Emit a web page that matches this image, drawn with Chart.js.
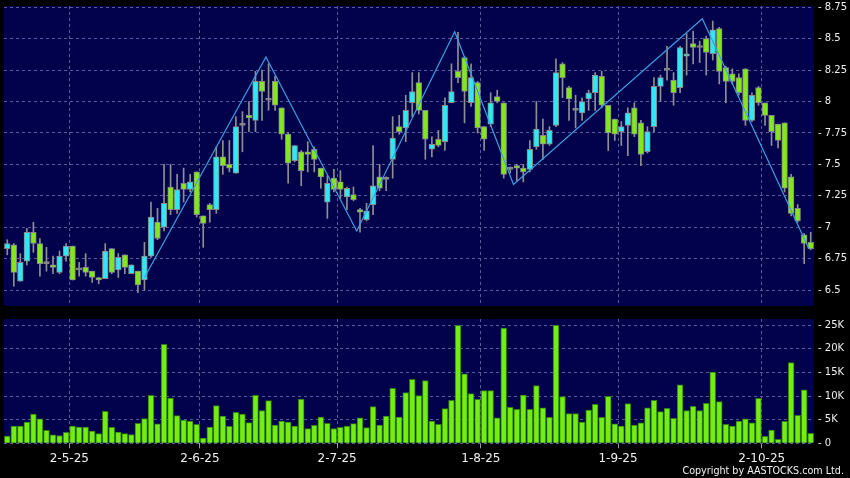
<!DOCTYPE html>
<html>
<head>
<meta charset="utf-8">
<title>Daily candlestick with volume</title>
<script src="https://cdn.jsdelivr.net/npm/chart.js@4.4.1/dist/chart.umd.min.js"></script>
<style>
  html, body { margin: 0; padding: 0; background: #000; }
  #wrap { position: relative; width: 850px; height: 478px; background: #000; overflow: hidden; }
  #priceChart { position: absolute; left: 0; top: 0; }
  #volumeChart { position: absolute; left: 0; top: 312px; }
  #copyright {
    position: absolute; right: 6px; top: 465px;
    font-family: 'DejaVu Sans', sans-serif; font-size: 9.6px; color: #f2f2f2;
  }
</style>
</head>
<body>
<div id="wrap">
  <canvas id="priceChart" width="850" height="306"></canvas>
  <canvas id="volumeChart" width="850" height="166"></canvas>
  <div id="copyright">Copyright by AASTOCKS.com Ltd.</div>
</div>
<script>
// trading days (D-M-YY)
const dates = [
  '16-4-25','17-4-25','22-4-25','23-4-25','24-4-25','25-4-25','28-4-25','29-4-25','30-4-25',
  '2-5-25','6-5-25','7-5-25','8-5-25','9-5-25','12-5-25','13-5-25','14-5-25','15-5-25','16-5-25',
  '19-5-25','20-5-25','21-5-25','22-5-25','23-5-25','26-5-25','27-5-25','28-5-25','29-5-25','30-5-25',
  '2-6-25','3-6-25','4-6-25','5-6-25','6-6-25','9-6-25','10-6-25','11-6-25','12-6-25','13-6-25',
  '16-6-25','17-6-25','18-6-25','19-6-25','20-6-25','23-6-25','24-6-25','25-6-25','26-6-25','27-6-25','30-6-25',
  '2-7-25','3-7-25','4-7-25','7-7-25','8-7-25','9-7-25','10-7-25','11-7-25','14-7-25','15-7-25','16-7-25',
  '17-7-25','18-7-25','21-7-25','22-7-25','23-7-25','24-7-25','25-7-25','28-7-25','29-7-25','30-7-25','31-7-25',
  '1-8-25','4-8-25','5-8-25','6-8-25','7-8-25','8-8-25','11-8-25','12-8-25','13-8-25','14-8-25','15-8-25',
  '18-8-25','19-8-25','20-8-25','21-8-25','22-8-25','25-8-25','26-8-25','27-8-25','28-8-25','29-8-25',
  '1-9-25','2-9-25','3-9-25','4-9-25','5-9-25','8-9-25','9-9-25','10-9-25','11-9-25','12-9-25','15-9-25',
  '16-9-25','17-9-25','18-9-25','19-9-25','22-9-25','23-9-25','24-9-25','25-9-25','26-9-25','29-9-25','30-9-25',
  '2-10-25','3-10-25','6-10-25','8-10-25','9-10-25','10-10-25','13-10-25','14-10-25','15-10-25'
];

const open = [
  6.83, 6.86, 6.57, 6.73, 6.96, 6.87, 6.71, 6.70, 6.64, 6.77, 6.85, 6.66, 6.68, 6.65, 6.60, 6.59,
  6.83, 6.66, 6.78, 6.63, 6.65, 6.58, 6.77, 7.04, 7.00, 7.32, 7.14, 7.35, 7.30, 7.44, 7.09, 7.18,
  7.14, 7.56, 7.50, 7.43, 7.81, 7.89, 7.85, 8.16, 8.01, 8.16, 7.95, 7.74, 7.53, 7.60, 7.60, 7.62,
  7.47, 7.20, 7.39, 7.36, 7.24, 7.26, 7.14, 7.06, 7.18, 7.40, 7.38, 7.54, 7.80, 7.79, 7.99, 8.15,
  7.93, 7.62, 7.70, 7.68, 7.99, 8.24, 8.35, 7.99, 8.15, 7.80, 7.82, 8.04, 7.99, 7.46, 7.49, 7.47,
  7.46, 7.64, 7.73, 7.66, 7.81, 8.30, 8.11, 7.93, 7.91, 8.02, 8.07, 8.20, 7.97, 7.86, 7.76, 7.81,
  7.95, 7.83, 7.60, 7.80, 8.12, 8.25, 8.17, 8.11, 8.36, 8.46, 8.43, 8.50, 8.38, 8.58, 8.27, 8.22,
  8.19, 8.26, 7.85, 8.11, 7.99, 7.89, 7.82, 7.83, 7.40, 7.15, 6.94, 6.88
];
const high = [
  6.90, 6.87, 6.79, 6.99, 7.04, 6.91, 6.84, 6.77, 6.81, 6.87, 6.85, 6.72, 6.79, 6.65, 6.60, 6.87,
  6.83, 6.79, 6.78, 6.70, 6.65, 6.88, 7.20, 7.15, 7.50, 7.50, 7.42, 7.47, 7.42, 7.44, 7.09, 7.19,
  7.64, 7.69, 7.69, 7.88, 7.92, 8.00, 8.24, 8.25, 8.30, 8.20, 7.95, 7.75, 7.65, 7.61, 7.68, 7.64,
  7.47, 7.41, 7.46, 7.45, 7.32, 7.32, 7.15, 7.19, 7.65, 7.50, 7.40, 7.88, 7.89, 8.05, 8.23, 8.23,
  7.93, 7.72, 7.77, 8.03, 8.30, 8.55, 8.36, 8.30, 8.16, 7.80, 8.07, 8.09, 7.99, 7.48, 7.50, 7.50,
  7.69, 8.00, 7.86, 7.80, 8.34, 8.31, 8.12, 8.05, 8.03, 8.09, 8.23, 8.24, 7.97, 7.86, 7.84, 7.95,
  7.99, 7.85, 7.80, 8.19, 8.21, 8.44, 8.23, 8.44, 8.54, 8.56, 8.48, 8.52, 8.64, 8.59, 8.28, 8.26,
  8.22, 8.26, 8.07, 8.12, 7.99, 7.89, 7.82, 7.83, 7.42, 7.18, 6.95, 6.96
];
const low = [
  6.78, 6.53, 6.57, 6.70, 6.80, 6.61, 6.65, 6.63, 6.63, 6.73, 6.58, 6.61, 6.61, 6.56, 6.55, 6.59,
  6.63, 6.60, 6.63, 6.63, 6.48, 6.50, 6.76, 6.90, 6.97, 7.10, 7.11, 7.20, 7.28, 7.08, 6.84, 7.04,
  7.11, 7.42, 7.44, 7.43, 7.60, 7.76, 7.76, 7.85, 7.93, 7.93, 7.70, 7.35, 7.52, 7.33, 7.44, 7.44,
  7.31, 7.07, 7.28, 7.23, 7.14, 7.21, 6.96, 7.05, 7.10, 7.29, 7.29, 7.39, 7.74, 7.68, 7.88, 7.90,
  7.54, 7.56, 7.64, 7.61, 7.99, 8.15, 7.83, 7.96, 7.75, 7.61, 7.80, 7.99, 7.39, 7.43, 7.37, 7.36,
  7.44, 7.62, 7.54, 7.65, 7.80, 8.03, 7.85, 7.79, 7.85, 7.93, 7.93, 7.95, 7.61, 7.69, 7.65, 7.57,
  7.72, 7.49, 7.59, 7.76, 8.00, 8.17, 7.97, 8.07, 8.21, 8.30, 8.31, 8.21, 8.33, 8.14, 7.99, 8.14,
  8.05, 7.81, 7.84, 7.97, 7.81, 7.65, 7.63, 7.28, 7.09, 7.04, 6.71, 6.82
];
const close = [
  6.87, 6.64, 6.72, 6.96, 6.87, 6.71, 6.71, 6.68, 6.77, 6.85, 6.58, 6.66, 6.64, 6.60, 6.58, 6.81,
  6.64, 6.76, 6.68, 6.70, 6.54, 6.77, 7.08, 6.91, 7.19, 7.14, 7.30, 7.30, 7.36, 7.10, 7.03, 7.14,
  7.56, 7.49, 7.47, 7.80, 7.81, 7.87, 8.16, 8.08, 8.01, 7.97, 7.74, 7.51, 7.65, 7.45, 7.58, 7.54,
  7.40, 7.35, 7.30, 7.30, 7.31, 7.22, 7.12, 7.13, 7.33, 7.31, 7.38, 7.71, 7.76, 7.93, 8.08, 7.93,
  7.70, 7.66, 7.65, 7.97, 8.08, 8.19, 8.08, 8.19, 7.79, 7.70, 7.99, 8.00, 7.42, 7.46, 7.47, 7.44,
  7.62, 7.78, 7.66, 7.77, 8.23, 8.19, 8.02, 7.93, 8.00, 8.07, 8.21, 7.97, 7.75, 7.74, 7.80, 7.91,
  7.74, 7.58, 7.76, 8.12, 8.19, 8.25, 8.07, 8.43, 8.38, 8.43, 8.43, 8.39, 8.57, 8.24, 8.16, 8.16,
  8.07, 7.85, 8.05, 7.99, 7.89, 7.76, 7.69, 7.31, 7.11, 7.05, 6.87, 6.83
];
const volume = [
  1550, 3670, 3670, 4520, 6210, 5160, 2750, 1770, 1620, 2330, 3670, 3460, 3460, 2610, 2050, 6780,
  3390, 2400, 2050, 1840, 4240, 5230, 10170, 4100, 20970, 9600, 5860, 4940, 4730, 4030, 1130, 3460,
  7980, 5790, 3600, 6570, 6210, 4380, 10170, 6920, 9040, 3880, 4730, 4520, 3670, 9390, 3110, 3810,
  5580, 4240, 3110, 3390, 3670, 4170, 5370, 3320, 7770, 3880, 5790, 11650, 5580, 10730, 13560, 10100,
  13280, 4730, 4030, 7340, 9110, 25000, 14690, 10520, 9320, 11160, 11160, 5370, 24430, 7630, 7200, 10240,
  7200, 12220, 7490, 5510, 25000, 9890, 6290, 6290, 4520, 7060, 8260, 5510, 9960, 4100, 3670, 8400,
  3880, 4310, 7490, 9110, 6710, 7420, 5300, 12360, 6920, 7840, 6920, 8470, 15110, 8830, 4030, 3670,
  4730, 5160, 4310, 9530, 1480, 2820, 850, 4660, 17090, 5930, 11300, 2120
];

// zigzag turning points: position (trading-day index) and price
const zigzagAt = [21, 39.6, 53.5, 68.5, 77.5, 106.4, 122.7];
const zigzagPrice = [6.60, 8.355, 6.97, 8.555, 7.34, 8.658, 6.83];

const monthTicks = ['2-5-25', '2-6-25', '2-7-25', '1-8-25', '1-9-25', '2-10-25'];
const priceTicks = [6.5, 6.75, 7, 7.25, 7.5, 7.75, 8, 8.25, 8.5, 8.75];
const volumeTicks = [0, 5000, 10000, 15000, 20000, 25000];

const NAVY = '#02024c';
const GRID = '#5a5a98';
const UP = '#30e8f4';
const DOWN = '#82e81c';
const DOJI = '#8c8c8c';
const WICK = '#8f8f8f';
const LABEL = '#f0f0f0';

// vertical grid lines sit just after the first trading day of each month
const monthTickPos = monthTicks.map(label => dates.indexOf(label) + 0.5);

// fill the plot area with navy before grid and bars are drawn
const plotBackground = {
    id: 'plotBackground',
    beforeDraw(chart) {
        const { ctx, chartArea } = chart;
        ctx.save();
        ctx.fillStyle = NAVY;
        ctx.fillRect(chartArea.left, chartArea.top, chartArea.right - chartArea.left, chartArea.bottom - chartArea.top);
        ctx.restore();
    }
};

const bodyColors = open.map((o, i) => close[i] > o ? UP : (close[i] < o ? DOWN : DOJI));

// bar charts default to offset scales, switch that off so -0.5..n-0.5 fills the plot
const xCommon = {
    type: 'linear',
    offset: false,
    min: -0.5,
    max: dates.length - 0.5,
    afterBuildTicks: scale => { scale.ticks = monthTickPos.map(v => ({ value: v })); }
};

function rightAxisFit(scale) {
    scale.width = 36;
    scale.paddingTop = 0;
    scale.paddingBottom = 0;
}

new Chart(document.getElementById('priceChart'), {
    type: 'bar',
    data: {
        datasets: [
            {
                type: 'line',
                label: 'ZigZag',
                data: zigzagAt.map((x, i) => ({ x: x, y: zigzagPrice[i] })),
                borderColor: '#3c9fe4',
                borderWidth: 1.2,
                pointRadius: 0,
                tension: 0,
                order: 0
            },
            {
                label: 'Body',
                data: dates.map((d, i) => ({ x: i, y: [open[i], close[i]] })),
                backgroundColor: bodyColors,
                borderColor: '#888888',
                borderWidth: 1,
                borderSkipped: false,
                barThickness: 5.7,
                minBarLength: 2,
                grouped: false,
                order: 1
            },
            {
                label: 'Wick',
                data: dates.map((d, i) => ({ x: i, y: [low[i], high[i]] })),
                backgroundColor: WICK,
                borderWidth: 0,
                barThickness: 1,
                grouped: false,
                order: 2
            }
        ]
    },
    options: {
        responsive: false,
        animation: false,
        layout: { padding: { left: 4, top: 6, right: 0, bottom: 0 } },
        plugins: { legend: { display: false }, tooltip: { enabled: false } },
        scales: {
            x: Object.assign({}, xCommon, {
                ticks: { display: false },
                grid: { color: GRID, lineWidth: 1, drawTicks: false, offset: false },
                border: { display: false, dash: [3, 3] },
                afterFit: scale => { scale.height = 0; }
            }),
            y: {
                position: 'right',
                min: 6.373,
                max: 8.76,
                afterBuildTicks: scale => { scale.ticks = priceTicks.map(v => ({ value: v })); },
                ticks: {
                    color: LABEL,
                    font: { family: 'DejaVu Sans', size: 10 },
                    padding: 4,
                    callback: value => '- ' + value
                },
                grid: { color: GRID, lineWidth: 1, drawTicks: false },
                border: { display: false, dash: [3, 3] },
                afterFit: rightAxisFit
            }
        }
    },
    plugins: [plotBackground]
});

new Chart(document.getElementById('volumeChart'), {
    type: 'bar',
    data: {
        datasets: [{
            label: 'Volume',
            data: dates.map((d, i) => ({ x: i, y: volume[i] })),
            backgroundColor: '#74ee12',
            borderColor: '#2f7f0c',
            borderWidth: 1,
            barThickness: 5.8
        }]
    },
    options: {
        responsive: false,
        animation: false,
        layout: { padding: { left: 4, top: 7, right: 0, bottom: 0 } },
        plugins: { legend: { display: false }, tooltip: { enabled: false } },
        scales: {
            x: Object.assign({}, xCommon, {
                ticks: {
                    color: LABEL,
                    font: { family: 'DejaVu Sans', size: 12 },
                    autoSkip: false,
                    maxRotation: 0,
                    padding: 3,
                    callback: (value, index) => monthTicks[index]
                },
                grid: { color: GRID, lineWidth: 1, offset: false, tickLength: 5, tickColor: '#9a9a9a', tickBorderDash: [] },
                border: { display: false, dash: [3, 3] },
                afterFit: scale => { scale.height = 34.7; }
            }),
            y: {
                position: 'right',
                min: 0,
                max: 26330,
                afterBuildTicks: scale => { scale.ticks = volumeTicks.map(v => ({ value: v })); },
                ticks: {
                    color: LABEL,
                    font: { family: 'DejaVu Sans', size: 10 },
                    padding: 4,
                    callback: value => '- ' + (value === 0 ? '0' : (value / 1000) + 'K')
                },
                grid: { color: GRID, lineWidth: 1, drawTicks: false },
                border: { display: false, dash: [3, 3] },
                afterFit: rightAxisFit
            }
        }
    },
    plugins: [plotBackground]
});
</script>
</body>
</html>
